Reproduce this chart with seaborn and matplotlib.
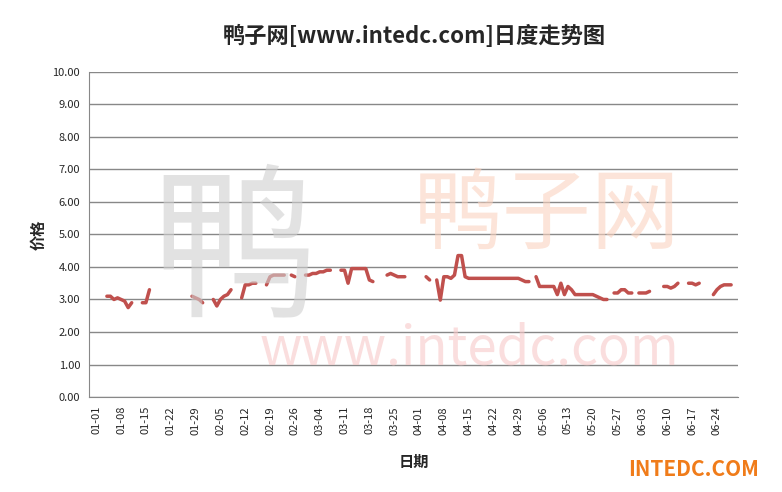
import numpy as np
import pandas as pd
import matplotlib
matplotlib.use("Agg")
import matplotlib.pyplot as plt
import seaborn as sns

sns.set_style("white")
plt.rcParams['font.family'] = ['Noto Sans CJK SC', 'DejaVu Sans']

# price segments: (start day offset from 01-01, values)
seg_starts = [3, 13, 27, 33, 41, 48, 55, 59, 69, 82, 93, 96, 124, 146, 153, 160, 167, 174]
seg_values = [
    [3.1, 3.1, 3.0, 3.05, 3.0, 2.95, 2.75, 2.9],
    [2.9, 2.9, 3.3],
    [3.1, 3.05, 3.0, 2.9],
    [3.0, 2.8, 3.0, 3.1, 3.15, 3.3],
    [3.05, 3.45, 3.45, 3.5, 3.5],
    [3.45, 3.7, 3.75, 3.75, 3.75, 3.75],
    [3.75, 3.7],
    [3.75, 3.75, 3.8, 3.8, 3.85, 3.85, 3.9, 3.9],
    [3.9, 3.9, 3.5, 3.95, 3.95, 3.95, 3.95, 3.95, 3.6, 3.55],
    [3.75, 3.8, 3.75, 3.7, 3.7, 3.7],
    [3.7, 3.6],
    [3.6, 2.98, 3.7, 3.7, 3.65, 3.75, 4.35, 4.35, 3.7, 3.65, 3.65, 3.65, 3.65,
     3.65, 3.65, 3.65, 3.65, 3.65, 3.65, 3.65, 3.65, 3.65, 3.65, 3.65, 3.6, 3.55, 3.55],
    [3.7, 3.4, 3.4, 3.4, 3.4, 3.4, 3.15, 3.5, 3.15, 3.4, 3.3, 3.15, 3.15, 3.15,
     3.15, 3.15, 3.15, 3.1, 3.05, 3.0, 3.0],
    [3.2, 3.2, 3.3, 3.3, 3.2, 3.2],
    [3.2, 3.2, 3.2, 3.25],
    [3.4, 3.4, 3.35, 3.4, 3.5],
    [3.5, 3.5, 3.45, 3.5],
    [3.15, 3.3, 3.4, 3.45, 3.45, 3.45],
]

dates = pd.date_range("2012-01-01", "2012-06-29", freq="D")
rows = []
for k, (s, vals) in enumerate(zip(seg_starts, seg_values)):
    for i, v in enumerate(vals):
        rows.append({"date": dates[s + i], "price": v, "seg": k})
df = pd.DataFrame(rows)

fig = plt.figure(figsize=(7.82, 4.92), dpi=100)
ax = fig.add_axes([0.114, 0.193, 0.83, 0.661])

# watermarks
fig.text(0.3, 0.48, "鸭", fontsize=120, color="#d0d0d0", alpha=0.6, ha="center", va="center", zorder=0)
fig.text(0.7, 0.56, "鸭子网", fontsize=64, color="#fbd3c0", alpha=0.6, ha="center", va="center", zorder=0)
fig.text(0.6, 0.29, "www.intedc.com", fontsize=38, color="#f8c8c8", alpha=0.6, ha="center", va="center", zorder=0)
ax.patch.set_alpha(0)

sns.lineplot(data=df, x="date", y="price", units="seg", estimator=None, ax=ax,
             color="#c0504d", linewidth=2.5)

ax.set_ylim(0, 10)
ax.set_yticks(np.arange(0, 10.01, 1))
ax.set_yticklabels([f"{v:.2f}" for v in np.arange(0, 10.01, 1)], fontsize=8)
ax.set_xlim(pd.Timestamp("2011-12-30"), pd.Timestamp("2012-06-30"))
ticks = pd.date_range("2012-01-01", "2012-06-29", freq="7D")
ax.set_xticks(ticks)
ax.set_xticklabels([t.strftime("%m-%d") for t in ticks], rotation=90, fontsize=8)
ax.grid(axis="y", color="#888888", linewidth=1)
for sp in ["top", "right"]:
    ax.spines[sp].set_visible(False)
for sp in ["left", "bottom"]:
    ax.spines[sp].set_color("#888888")
ax.tick_params(axis="both", length=3, color="#888888")

ax.set_xlabel("日期", fontsize=11, fontweight="bold", labelpad=14)
ax.set_ylabel("价格", fontsize=11, fontweight="bold")
fig.text(0.53, 0.925, "鸭子网[www.intedc.com]日度走势图", fontsize=16, fontweight="bold", ha="center", va="center")
fig.text(0.97, 0.045, "INTEDC.COM", fontsize=15, fontweight="bold", color="#f07c1a", ha="right", va="center")

fig.savefig("out.png", dpi=100)
